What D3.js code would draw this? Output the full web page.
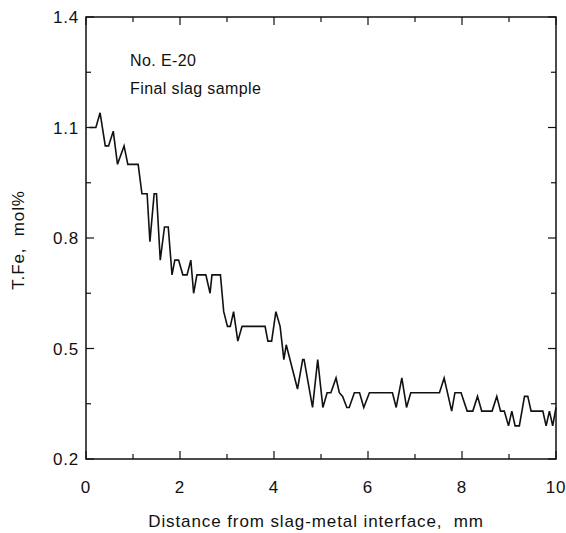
<!DOCTYPE html>
<html>
<head>
<script src="https://d3js.org/d3.v7.min.js"></script>
<style>
  body { margin: 0; background: #fff; }
  text { font-family: "Liberation Sans", Arial, sans-serif; fill: #111; white-space: pre; }
</style>
</head>
<body>
<script>
  var w = 566, h = 533;
  var padLeft = 86, padRight = 556, padTop = 17, padBottom = 459;

  // distance from interface (mm) and T.Fe (mol%)
  var distance = [0.07, 0.21, 0.30, 0.41, 0.48, 0.58, 0.67, 0.81, 0.89, 1.11,
    1.19, 1.30, 1.36, 1.45, 1.50, 1.58, 1.67, 1.75, 1.83, 1.89,
    1.97, 2.06, 2.15, 2.23, 2.29, 2.36, 2.55, 2.64, 2.68, 2.86,
    2.93, 3.01, 3.07, 3.14, 3.23, 3.32, 3.81, 3.87, 3.95, 4.04,
    4.13, 4.21, 4.26, 4.50, 4.61, 4.64, 4.82, 4.93, 5.04, 5.13,
    5.21, 5.32, 5.39, 5.46, 5.55, 5.60, 5.71, 5.82, 5.91, 6.03,
    6.52, 6.60, 6.72, 6.82, 6.91, 7.52, 7.62, 7.78, 7.85, 7.98,
    8.11, 8.23, 8.33, 8.42, 8.64, 8.74, 8.82, 8.90, 8.99, 9.06,
    9.13, 9.22, 9.33, 9.40, 9.47, 9.72, 9.79, 9.86, 9.93, 10.0];
  var tfe = [1.10, 1.10, 1.14, 1.05, 1.05, 1.09, 1.00, 1.05, 1.00, 1.00,
    0.92, 0.92, 0.79, 0.92, 0.92, 0.74, 0.83, 0.83, 0.70, 0.74,
    0.74, 0.70, 0.70, 0.74, 0.65, 0.70, 0.70, 0.65, 0.70, 0.70,
    0.60, 0.56, 0.56, 0.60, 0.52, 0.56, 0.56, 0.52, 0.52, 0.60,
    0.56, 0.47, 0.51, 0.39, 0.47, 0.47, 0.34, 0.47, 0.34, 0.38,
    0.38, 0.42, 0.38, 0.37, 0.34, 0.34, 0.38, 0.38, 0.34, 0.38,
    0.38, 0.34, 0.42, 0.34, 0.38, 0.38, 0.42, 0.33, 0.38, 0.38,
    0.33, 0.33, 0.37, 0.33, 0.33, 0.37, 0.33, 0.33, 0.29, 0.33,
    0.29, 0.29, 0.37, 0.37, 0.33, 0.33, 0.29, 0.33, 0.29, 0.34];

  var xTicks = [0, 2, 4, 6, 8, 10];
  var xMinor = [1, 3, 5, 7, 9];
  var yTicks = [0.2, 0.5, 0.8, 1.1, 1.4];
  var yMinor = [0.35, 0.65, 0.95, 1.25];

  var xScale = d3.scaleLinear().domain([0, 10]).range([padLeft, padRight]);
  var yScale = d3.scaleLinear().domain([0.2, 1.4]).range([padBottom, padTop]);

  var svg = d3.select('body').append('svg')
    .attr('width', w)
    .attr('height', h);

  // frame
  svg.append('rect')
    .attr('x', padLeft).attr('y', padTop)
    .attr('width', padRight - padLeft).attr('height', padBottom - padTop)
    .attr('fill', 'none').attr('stroke', '#111').attr('stroke-width', 1.5);

  // inward ticks on all four sides
  function xTickMarks(vals, len) {
    svg.selectAll(null).data(vals).enter().append('line')
      .attr('x1', function(d) { return xScale(d); })
      .attr('x2', function(d) { return xScale(d); })
      .attr('y1', padBottom).attr('y2', padBottom - len)
      .attr('stroke', '#111').attr('stroke-width', 1.2);
    svg.selectAll(null).data(vals).enter().append('line')
      .attr('x1', function(d) { return xScale(d); })
      .attr('x2', function(d) { return xScale(d); })
      .attr('y1', padTop).attr('y2', padTop + len)
      .attr('stroke', '#111').attr('stroke-width', 1.2);
  }
  function yTickMarks(vals, len) {
    svg.selectAll(null).data(vals).enter().append('line')
      .attr('y1', function(d) { return yScale(d); })
      .attr('y2', function(d) { return yScale(d); })
      .attr('x1', padLeft).attr('x2', padLeft + len)
      .attr('stroke', '#111').attr('stroke-width', 1.2);
    svg.selectAll(null).data(vals).enter().append('line')
      .attr('y1', function(d) { return yScale(d); })
      .attr('y2', function(d) { return yScale(d); })
      .attr('x1', padRight).attr('x2', padRight - len)
      .attr('stroke', '#111').attr('stroke-width', 1.2);
  }
  xTickMarks(xTicks, 8);
  xTickMarks(xMinor, 5);
  yTickMarks(yTicks, 8);
  yTickMarks(yMinor, 5);

  // tick labels
  svg.selectAll(null).data(xTicks).enter().append('text')
    .attr('x', function(d) { return xScale(d); })
    .attr('y', 493)
    .attr('text-anchor', 'middle')
    .attr('font-size', '17px')
    .attr('letter-spacing', '0.8px')
    .text(function(d) { return d; });

  svg.selectAll(null).data(yTicks).enter().append('text')
    .attr('x', 79)
    .attr('y', function(d) { return yScale(d) + 6; })
    .attr('text-anchor', 'end')
    .attr('font-size', '17px')
    .attr('letter-spacing', '0.8px')
    .text(function(d) { return d3.format('.1f')(d); });

  // data line
  var pts = distance.map(function(d, i) { return [d, tfe[i]]; });
  var line = d3.line()
    .x(function(d) { return xScale(d[0]); })
    .y(function(d) { return yScale(d[1]); });
  svg.append('path')
    .datum(pts)
    .attr('d', line)
    .attr('fill', 'none')
    .attr('stroke', '#111')
    .attr('stroke-width', 1.6)
    .attr('stroke-linejoin', 'miter');

  // annotations
  svg.append('text').attr('x', 130).attr('y', 66).attr('font-size', '16px')
    .attr('letter-spacing', '0.4px').text('No. E-20');
  svg.append('text').attr('x', 130).attr('y', 94).attr('font-size', '16px')
    .attr('letter-spacing', '0.4px').text('Final slag sample');

  // axis titles
  svg.append('text')
    .attr('x', 316).attr('y', 527)
    .attr('text-anchor', 'middle')
    .attr('font-size', '17px')
    .attr('letter-spacing', '0.9px')
    .text('Distance from slag-metal interface,  mm');

  svg.append('text')
    .attr('transform', 'translate(24,' + 240 + ') rotate(-90)')
    .attr('text-anchor', 'middle')
    .attr('font-size', '17px')
    .attr('letter-spacing', '0.9px')
    .text('T.Fe,  mol%');
</script>
</body>
</html>
